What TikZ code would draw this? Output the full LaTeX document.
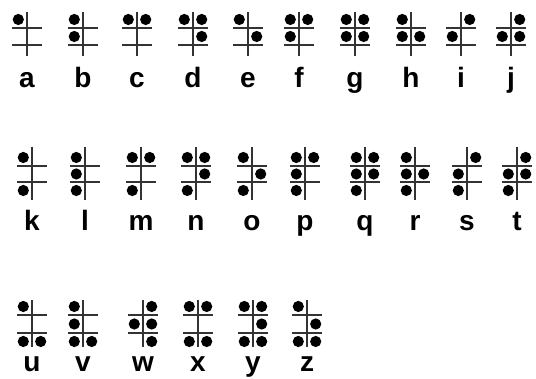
\documentclass[tikz,border=0pt]{standalone}
\usepackage{fontspec}
\setmainfont{Liberation Sans}
\tikzset{
  gridline/.style={draw=black!80, line width=1.7pt},
  brdot/.style={fill=black},
  letterlabel/.style={font=\fontsize{28}{28}\selectfont\bfseries, anchor=base, inner sep=0pt}
}
% #1 x, #2 upper line y, #3 lower line y, #4 vertical top, #5 vertical bottom, #6 dots (macro), #7 letter, #8 baseline
\newcommand{\brcell}[8]{%
  \draw[gridline] (#1,#4) -- (#1,#5);
  \draw[gridline] (#1-15,#2) -- (#1+15,#2);
  \draw[gridline] (#1-15,#3) -- (#1+15,#3);
  \foreach \k in #6{%
    \pgfmathsetmacro{\dx}{ifthenelse(\k>3,8.7,-8.7)}%
    \pgfmathtruncatemacro{\rw}{mod(\k-1,3)}%
    \pgfmathsetmacro{\dy}{ifthenelse(\rw==0,#2-8.5,ifthenelse(\rw==1,(#2+#3)/2,#3+8.5))}%
    \fill[brdot] (#1+\dx,\dy) circle[radius=5.6pt];
  }
  \node[letterlabel] (lbl-#7) at (#1,#8) {#7};
}
\begin{document}
\begin{tikzpicture}[x=1pt,y=-1pt]
\useasboundingbox (0,0) rectangle (536,379);
\fill[white] (0,0) rectangle (536,379);
% row 1
\foreach \x/\l/\d in {27/a/{1}, 83/b/{1,2}, 137/c/{1,4}, 193/d/{1,4,5}, 248/e/{1,5},
  299/f/{1,2,4}, 355/g/{1,2,4,5}, 411/h/{1,2,5}, 461/i/{2,4}, 511/j/{2,4,5}}{
  \brcell{\x}{28}{45}{12}{56}{\d}{\l}{88}
}
% row 2
\foreach \x/\l/\d in {32/k/{1,3}, 85/l/{1,2,3}, 141/m/{1,3,4}, 196/n/{1,3,4,5}, 252/o/{1,3,5},
  305/p/{1,2,3,4}, 365/q/{1,2,3,4,5}, 415/r/{1,2,3,5}, 467/s/{2,3,4}, 517/t/{2,3,4,5}}{
  \brcell{\x}{166}{182}{147}{200}{\d}{\l}{231}
}
% row 3
\foreach \x/\l/\d in {32/u/{1,3,6}, 83/v/{1,2,3,6}, 143/w/{2,4,5,6}, 198/x/{1,3,4,6},
  253/y/{1,3,4,5,6}, 307/z/{1,3,5,6}}{
  \brcell{\x}{315}{333}{300}{347}{\d}{\l}{372}
}
\end{tikzpicture}
\end{document}
